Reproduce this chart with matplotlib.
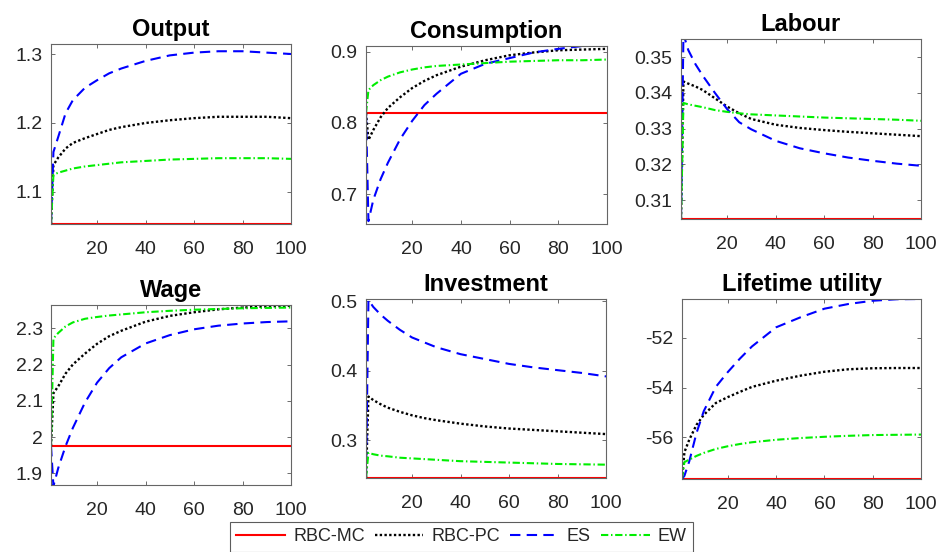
import matplotlib
matplotlib.use("Agg")
import matplotlib.pyplot as plt
from matplotlib.ticker import FuncFormatter
import numpy as np

plt.rcParams['font.family'] = ['Liberation Sans', 'DejaVu Sans']

t = [1, 2, 4, 7, 10, 15, 20, 25, 30, 40, 50, 60, 70, 80, 90, 100]

labels = ["RBC-MC", "RBC-PC", "ES", "EW"]
titles = ["Output", "Consumption", "Labour", "Wage", "Investment", "Lifetime utility"]

# RBC-MC stays flat at its steady state
mc_level = [1.0536, 0.8137, 0.3047, 1.9754, 0.2458, -57.68]

output_pc = [1.0536, 1.139, 1.150, 1.163, 1.171, 1.178, 1.184, 1.190, 1.194, 1.200, 1.204, 1.207, 1.209, 1.209, 1.209, 1.207]
output_es = [1.0536, 1.158, 1.180, 1.214, 1.233, 1.251, 1.262, 1.272, 1.279, 1.290, 1.298, 1.302, 1.304, 1.304, 1.302, 1.300]
output_ew = [1.0536, 1.125, 1.128, 1.131, 1.134, 1.137, 1.139, 1.141, 1.143, 1.145, 1.147, 1.148, 1.149, 1.149, 1.149, 1.148]

cons_pc = [0.8137, 0.776, 0.790, 0.808, 0.821, 0.836, 0.849, 0.859, 0.867, 0.879, 0.888, 0.895, 0.899, 0.902, 0.903, 0.904]
cons_es = [0.8137, 0.662, 0.692, 0.721, 0.744, 0.777, 0.803, 0.825, 0.841, 0.869, 0.883, 0.891, 0.899, 0.904, 0.908, 0.912]
cons_ew = [0.8137, 0.846, 0.853, 0.860, 0.865, 0.871, 0.875, 0.878, 0.880, 0.882, 0.884, 0.886, 0.887, 0.888, 0.888, 0.889]

lab_pc = [0.3047, 0.3432, 0.3426, 0.3418, 0.3408, 0.3385, 0.3362, 0.3343, 0.3327, 0.3311, 0.3302, 0.3296, 0.3291, 0.3287, 0.3283, 0.3279]
lab_es = [0.3047, 0.3565, 0.3520, 0.3480, 0.3448, 0.3400, 0.3355, 0.3318, 0.3298, 0.3266, 0.3245, 0.3231, 0.3219, 0.3210, 0.3202, 0.3196]
lab_ew = [0.3047, 0.3372, 0.3368, 0.3364, 0.3360, 0.3352, 0.3347, 0.3343, 0.3340, 0.3337, 0.3334, 0.3331, 0.3329, 0.3327, 0.3325, 0.3322]

wage_pc = [1.9754, 2.121, 2.140, 2.175, 2.200, 2.230, 2.257, 2.278, 2.293, 2.318, 2.334, 2.344, 2.352, 2.357, 2.360, 2.362]
wage_es = [1.9754, 1.865, 1.915, 1.975, 2.025, 2.095, 2.150, 2.190, 2.220, 2.258, 2.281, 2.297, 2.307, 2.313, 2.317, 2.319]
wage_ew = [1.9754, 2.272, 2.287, 2.305, 2.316, 2.326, 2.331, 2.335, 2.338, 2.344, 2.348, 2.351, 2.353, 2.355, 2.356, 2.357]

inv_pc = [0.2458, 0.363, 0.358, 0.352, 0.347, 0.341, 0.336, 0.332, 0.329, 0.324, 0.320, 0.317, 0.315, 0.313, 0.311, 0.309]
inv_es = [0.2458, 0.502, 0.492, 0.481, 0.472, 0.459, 0.448, 0.441, 0.434, 0.424, 0.417, 0.410, 0.405, 0.401, 0.397, 0.392]
inv_ew = [0.2458, 0.282, 0.280, 0.278, 0.277, 0.275, 0.274, 0.273, 0.272, 0.270, 0.269, 0.268, 0.267, 0.266, 0.2655, 0.265]

util_pc = [-57.68, -56.6, -56.1, -55.5, -55.1, -54.62, -54.38, -54.17, -53.97, -53.72, -53.52, -53.36, -53.26, -53.22, -53.21, -53.21]
util_es = [-57.68, -57.55, -56.97, -55.83, -54.95, -53.97, -53.37, -52.83, -52.34, -51.57, -51.17, -50.82, -50.63, -50.50, -50.44, -50.43]
util_ew = [-57.68, -57.0, -56.9, -56.75, -56.63, -56.47, -56.36, -56.27, -56.20, -56.10, -56.03, -55.98, -55.94, -55.91, -55.90, -55.89]

series = [
    (output_pc, output_es, output_ew),
    (cons_pc, cons_es, cons_ew),
    (lab_pc, lab_es, lab_ew),
    (wage_pc, wage_es, wage_ew),
    (inv_pc, inv_es, inv_ew),
    (util_pc, util_es, util_ew),
]

ylims = [(1.0536, 1.3145), (0.658, 0.908), (0.3047, 0.3551),
         (1.868, 2.364), (0.2458, 0.5034), (-57.68, -50.43)]
yticks = [[1.1, 1.2, 1.3], [0.7, 0.8, 0.9], [0.31, 0.32, 0.33, 0.34, 0.35],
          [1.9, 2.0, 2.1, 2.2, 2.3], [0.3, 0.4, 0.5], [-56, -54, -52]]

# axes boxes in pixels: left, right, top, bottom
boxes = [(51, 291, 44, 224), (366, 607, 46, 224), (681, 921, 39, 219),
         (51, 291, 305, 485), (366, 606, 299, 478), (682, 921, 299, 479)]

W, H = 937, 552
fig = plt.figure(figsize=(W / 100, H / 100), dpi=100)

styles = [dict(color='red', linestyle='-', lw=1.5),
          dict(color='black', linestyle=(0, (1, 1)), lw=1.7),
          dict(color='blue', linestyle=(0, (5, 3)), lw=1.5),
          dict(color='#00ee00', linestyle=(0, (3.5, 1.3, 0.7, 1.3)), lw=1.5)]

handles = []
for i in range(6):
    l, r, tp, b = boxes[i]
    ax = fig.add_axes([l / W, 1 - b / H, (r - l) / W, (b - tp) / H])
    pc, es, ew = series[i]
    mc = np.full(len(t), mc_level[i])
    hs = []
    for y, st in zip([mc, pc, es, ew], styles):
        h, = ax.plot(t, y, **st)
        hs.append(h)
    handles = hs
    ax.set_xlim(1, 100)
    ax.set_ylim(*ylims[i])
    ax.set_xticks([20, 40, 60, 80, 100])
    ax.set_yticks(yticks[i])
    ax.yaxis.set_major_formatter(FuncFormatter(lambda v, p: '%g' % round(v, 4)))
    ax.tick_params(direction='in', length=3, width=0.6, top=True, right=True,
                   labelsize=14, labelcolor='#262626', color='#555555')
    ax.tick_params(axis='x', pad=12)
    ax.tick_params(axis='y', pad=6)
    for s in ax.spines.values():
        s.set_color('#666666')
        s.set_linewidth(0.8)
    ax.set_title(titles[i], fontsize=17, fontweight='bold', pad=5.5)

# legend box runs past the bottom edge, as in the original export
leg = fig.legend(handles, labels, loc='upper center', bbox_to_anchor=(461.5 / W, 1 - 522 / H),
                 ncol=4, fontsize=13, frameon=True, fancybox=False, edgecolor='#333333',
                 handlelength=2.7, handletextpad=0.45, columnspacing=0.55, borderpad=0.35,
                 borderaxespad=0, labelcolor='#262626')
leg.get_frame().set_linewidth(0.8)

fig.savefig('out.png', dpi=100)
